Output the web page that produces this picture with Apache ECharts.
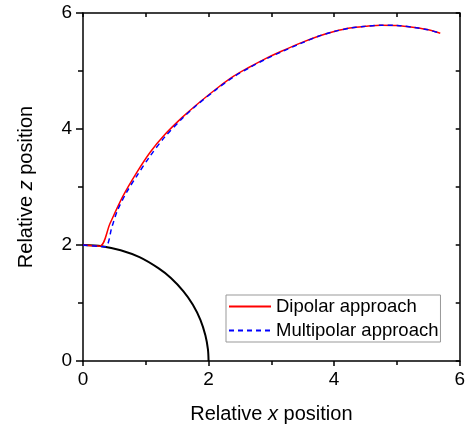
<!DOCTYPE html>
<html>
<head>
<meta charset="utf-8">
<script src="https://cdn.jsdelivr.net/npm/echarts@6/dist/echarts.min.js"></script>
<style>
html,body{margin:0;padding:0;background:#fff}
#chart{width:468px;height:429px}
</style>
</head>
<body>
<div id="chart"></div>
<script>
// sphere outline (quarter circle)
const sphere=[[0,2],[0.3,1.98],[0.6,1.91],[0.9,1.79],[1.2,1.6],[1.4,1.43],[1.6,1.2],[1.75,0.97],[1.87,0.71],[1.95,0.44],[1.99,0.2],[2,0]];
const dipolar=[[0,2],[0.27,1.98],[0.43,2.37],[0.63,2.83],[0.85,3.24],[1.07,3.6],[1.3,3.9],[1.58,4.2],[1.8,4.41],[2.12,4.69],[2.4,4.91],[2.64,5.06],[2.9,5.21],[3.16,5.34],[3.48,5.49],[3.75,5.6],[4.0,5.68],[4.25,5.74],[4.5,5.77],[4.75,5.79],[5.0,5.785],[5.28,5.75],[5.5,5.71],[5.69,5.65]];
const multipolar=[[0,2],[0.35,1.97],[0.46,2.31],[0.55,2.6],[0.7,2.92],[0.85,3.18],[1.06,3.52],[1.3,3.86],[1.58,4.18],[1.8,4.4],[2.12,4.68],[2.4,4.9],[2.64,5.05],[2.9,5.2],[3.16,5.33],[3.48,5.48],[3.75,5.6],[4.0,5.68],[4.25,5.74],[4.5,5.77],[4.75,5.79],[5.0,5.785],[5.28,5.75],[5.5,5.71],[5.66,5.66]];
const names=['Dipolar approach','Multipolar approach'];

const font='Liberation Sans';
const ax={color:'#000',width:1.5};
const nameRich={a:{fontSize:20,color:'#000',fontFamily:font},i:{fontSize:20,color:'#000',fontStyle:'italic',fontFamily:font}};
var c=echarts.init(document.getElementById('chart'));
c.setOption({
 animation:false,
 textStyle:{fontFamily:font},
 grid:{left:83,right:5,top:13,bottom:68},
 legend:{
  data:names,orient:'vertical',left:226,top:295,
  itemWidth:42,itemHeight:10,itemGap:5,
  padding:[2,2,2,2],borderColor:'#999',borderWidth:1,
  itemStyle:{opacity:0},
  textStyle:{fontSize:18.5,lineHeight:18,color:'#000',fontFamily:font}
 },
 xAxis:[{
  type:'value',min:0,max:6,interval:2,position:'bottom',
  axisLine:{onZero:false,lineStyle:ax},
  axisTick:{show:true,length:5,lineStyle:ax},
  minorTick:{show:true,splitNumber:2,length:4,lineStyle:{color:'#000',width:1.5}},
  splitLine:{show:false},
  axisLabel:{fontSize:19,color:'#000',margin:9},
  name:'{a|Relative }{i|x}{a| position}',nameLocation:'middle',nameGap:43,
  nameTextStyle:{rich:nameRich}
 },{
  type:'value',min:0,max:6,interval:1,position:'top',
  axisLine:{onZero:false,lineStyle:ax},
  axisTick:{show:true,inside:true,length:4,lineStyle:ax},
  axisLabel:{show:false},splitLine:{show:false}
 }],
 yAxis:[{
  type:'value',min:0,max:6,interval:2,position:'left',
  axisLine:{onZero:false,lineStyle:ax},
  axisTick:{show:true,length:7,lineStyle:ax},
  minorTick:{show:true,splitNumber:2,length:5,lineStyle:{color:'#000',width:1.5}},
  splitLine:{show:false},
  axisLabel:{fontSize:19,color:'#000',margin:11},
  name:'{a|Relative }{i|z}{a| position}',nameLocation:'middle',nameGap:47,nameRotate:90,
  nameTextStyle:{rich:nameRich}
 },{
  type:'value',min:0,max:6,interval:1,position:'right',
  axisLine:{onZero:false,lineStyle:ax},
  axisTick:{show:true,inside:true,length:4,lineStyle:ax},
  axisLabel:{show:false},splitLine:{show:false}
 }],
 series:[
  {type:'line',data:sphere,symbol:'none',smooth:0.3,lineStyle:{color:'#000',width:2},silent:true},
  {name:names[0],type:'line',data:dipolar,symbol:'none',smooth:0.3,color:'#ff0000',lineStyle:{color:'#ff0000',width:1.5}},
  {name:names[1],type:'line',data:multipolar,symbol:'none',smooth:0.3,color:'#0000ff',lineStyle:{color:'#0000ff',width:1.5,type:[5,4]}},
  {type:'line',xAxisIndex:1,yAxisIndex:1,data:[],silent:true}
 ]
});
</script>
</body>
</html>
